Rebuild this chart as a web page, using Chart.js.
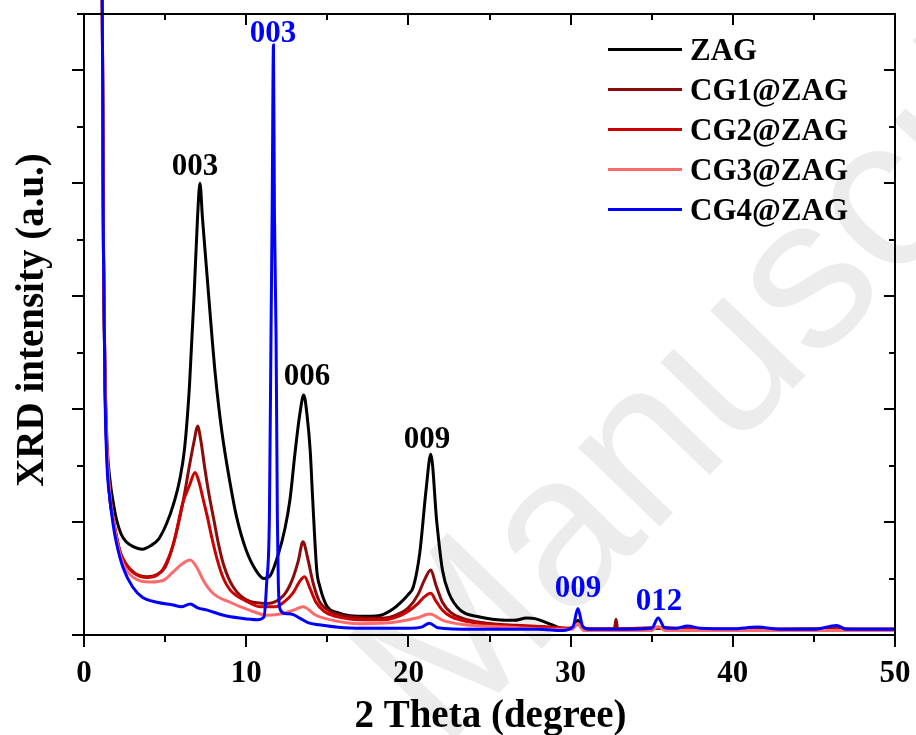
<!DOCTYPE html>
<html>
<head>
<meta charset="utf-8">
<script src="https://cdn.jsdelivr.net/npm/chart.js@4/dist/chart.umd.min.js"></script>
<style>
html,body{margin:0;padding:0;background:#fff;}
#wrap{width:916px;height:735px;position:relative;}
</style>
</head>
<body>
<div id="wrap"><canvas id="c" width="916" height="735"></canvas></div>
<script>
// ---------- data ----------
const seriesNames = ['ZAG', 'CG1@ZAG', 'CG2@ZAG', 'CG3@ZAG', 'CG4@ZAG'];
const seriesColors = ['#000000', '#8B0A0A', '#CC0000', '#FF6B6B', '#0000FF'];

const zagX = [1.10,1.20,1.30,1.42,1.60,1.80,2.00,2.30,2.60,3.00,3.60,4.10,4.60,5.10,5.50,5.90,6.20,6.50,6.80,7.00,7.15,7.30,7.55,7.80,8.10,8.50,9.00,9.40,10.00,10.70,11.10,11.50,12.00,12.40,12.70,13.00,13.30,13.55,13.75,13.95,14.10,14.35,14.55,15.00,15.60,16.40,17.50,18.30,19.00,19.50,20.00,20.30,20.70,21.10,21.38,21.75,22.10,22.50,23.20,24.40,25.50,26.50,27.30,27.80,28.50,29.20,29.80,30.20,30.45,30.70,31.50,33.00,35.40,37.00,40.00,43.00,46.00,48.00,50.00];
const zagY = [13,6.9,4.6,3.4,2.75,2.35,2.05,1.78,1.65,1.57,1.52,1.58,1.70,1.98,2.30,2.75,3.30,4.40,6.10,7.40,8.00,7.40,6.50,5.60,4.60,3.60,2.70,2.10,1.50,1.10,1.00,1.06,1.45,1.90,2.40,3.20,3.90,4.25,3.90,3.25,2.40,1.15,0.85,0.50,0.40,0.34,0.33,0.35,0.45,0.57,0.72,0.85,1.45,2.60,3.20,2.00,1.15,0.74,0.44,0.32,0.27,0.26,0.30,0.29,0.22,0.14,0.10,0.15,0.26,0.12,0.09,0.10,0.12,0.10,0.09,0.10,0.11,0.10,0.10];

const cg1X = [1.10,1.20,1.30,1.42,1.60,1.80,2.00,2.20,2.40,3.00,3.90,4.50,5.00,5.50,6.10,6.50,6.80,7.00,7.20,7.45,7.70,8.00,8.30,8.60,9.20,10.20,11.30,12.30,12.80,13.20,13.50,13.80,14.10,14.50,15.00,15.60,16.50,17.50,18.50,19.30,20.00,20.60,21.00,21.38,21.70,22.10,22.60,23.30,24.50,26.00,28.00,30.00,30.45,30.80,32.70,32.80,32.90,35.40,38.00,42.00,46.00,50.00];
const cg1Y = [13,6.8,4.4,3.2,2.4,2.05,1.75,1.50,1.35,1.12,1.03,1.07,1.20,1.60,2.35,3.00,3.45,3.70,3.45,2.95,2.50,2.05,1.60,1.25,0.85,0.60,0.56,0.70,0.95,1.30,1.65,1.35,0.95,0.60,0.45,0.37,0.32,0.30,0.30,0.36,0.48,0.72,0.98,1.15,0.88,0.58,0.40,0.30,0.22,0.18,0.15,0.12,0.20,0.11,0.11,0.28,0.11,0.13,0.10,0.10,0.10,0.10];

const cg2X = [1.10,1.20,1.30,1.42,1.60,1.80,2.00,2.20,2.40,3.00,3.90,4.50,4.90,5.50,6.10,6.50,6.85,7.10,7.35,7.60,7.90,8.20,8.60,9.00,10.00,10.90,11.80,12.40,12.90,13.30,13.60,13.90,14.30,14.80,15.50,16.50,17.50,18.50,19.30,20.00,20.60,21.00,21.38,21.70,22.10,22.60,23.30,24.50,26.00,28.00,30.00,30.45,30.80,33.00,35.40,38.00,42.00,46.00,50.00];
const cg2Y = [13,6.8,4.4,3.2,2.4,2.05,1.75,1.50,1.35,1.12,1.02,1.06,1.18,1.60,2.35,2.65,2.88,2.70,2.40,2.10,1.70,1.35,1.00,0.80,0.60,0.50,0.50,0.60,0.75,0.95,1.03,0.85,0.58,0.42,0.33,0.28,0.27,0.27,0.32,0.42,0.56,0.68,0.74,0.60,0.44,0.33,0.26,0.20,0.17,0.15,0.12,0.20,0.11,0.10,0.13,0.10,0.10,0.10,0.10];

const cg3X = [1.10,1.20,1.30,1.42,1.60,1.80,2.00,2.40,3.00,4.10,4.90,5.50,6.10,6.55,6.95,7.35,7.95,9.00,10.20,11.30,12.30,13.00,13.50,14.30,15.50,17.00,19.00,20.50,21.30,22.20,23.50,26.00,29.00,30.10,30.45,30.80,35.00,35.40,35.80,40.00,45.00,50.00];
const cg3Y = [13,7.0,4.6,3.3,2.5,2.05,1.70,1.27,1.03,0.94,0.97,1.12,1.27,1.33,1.20,0.97,0.74,0.58,0.44,0.35,0.38,0.45,0.50,0.35,0.25,0.20,0.22,0.30,0.37,0.25,0.18,0.14,0.10,0.10,0.20,0.08,0.08,0.15,0.08,0.08,0.08,0.08];

const cg4X = [1.10,1.20,1.30,1.42,1.60,1.80,2.00,2.40,3.00,3.60,4.50,5.50,6.00,6.55,7.00,7.60,8.60,9.60,10.70,11.10,11.26,11.43,11.53,11.60,11.68,11.74,11.84,11.92,11.98,12.10,12.40,12.90,13.30,13.80,14.50,16.00,18.00,20.00,20.80,21.30,21.80,24.00,26.00,28.00,29.50,30.15,30.45,30.75,31.20,33.00,35.00,35.40,35.80,36.50,37.20,38.00,40.00,41.50,43.00,45.00,46.40,47.00,50.00];
const cg4Y = [13,6.8,4.2,3.0,2.4,1.95,1.63,1.20,0.85,0.67,0.58,0.53,0.50,0.55,0.48,0.44,0.35,0.30,0.27,0.32,0.92,2.10,5.35,7.50,10.45,7.50,5.35,2.10,0.92,0.45,0.38,0.36,0.30,0.22,0.18,0.13,0.12,0.12,0.14,0.21,0.13,0.10,0.10,0.10,0.08,0.15,0.47,0.15,0.10,0.10,0.12,0.30,0.13,0.12,0.16,0.12,0.11,0.14,0.10,0.10,0.17,0.10,0.10];

const xTickValues = [0,5,10,15,20,25,30,35,40,45,50];
const xTickLabels = ['0','','10','','20','','30','','40','','50'];
const yTickValues = [0,1,2,3,4,5,6,7,8,9,10,11];

const peakLabels = ['003','006','009','003','009','012'];
const peakX = [6.84, 13.75, 21.15, 11.65, 30.46, 35.45];
const peakY = [8.15, 4.43, 3.31, 10.50, 0.67, 0.44];
const peakColors = ['#000','#000','#000','#0000FF','#0000FF','#0000FF'];

// ---------- chart ----------
function pts(xs, ys){ return xs.map((x,i)=>({x:x, y:ys[i]})); }
const allX = [zagX, cg1X, cg2X, cg3X, cg4X];
const allY = [zagY, cg1Y, cg2Y, cg3Y, cg4Y];
const drawOrder = [5,4,3,2,1];

const SERIF = '"Liberation Serif", "Times New Roman", serif';

const decor = {
  id: 'decor',
  beforeDraw(chart){
    const ctx = chart.ctx;
    ctx.save();
    ctx.fillStyle = '#fff';
    ctx.fillRect(0,0,chart.width,chart.height);
    // faint watermark
    ctx.translate(442, 752);
    ctx.rotate(-46*Math.PI/180);
    ctx.font = '215px "Liberation Sans", Arial, sans-serif';
    ctx.fillStyle = '#ececec';
    ctx.textBaseline = 'alphabetic';
    ctx.textAlign = 'left';
    ctx.fillText('Manuscript', 0, 0);
    ctx.restore();
  },
  afterDatasetsDraw(chart){
    const ctx = chart.ctx;
    const xs = chart.scales.x, ys = chart.scales.y;
    const a = chart.chartArea;
    ctx.save();
    ctx.strokeStyle = '#000';
    ctx.lineWidth = 2;
    ctx.lineCap = 'butt';
    // frame
    ctx.beginPath();
    ctx.rect(a.left, a.top, a.right - a.left, a.bottom - a.top);
    ctx.stroke();
    // x ticks (bottom outward, top inward)
    xTickValues.forEach(v=>{
      const px = Math.round(xs.getPixelForValue(v));
      const major = v % 10 === 0;
      const L = major ? 12 : 7;
      ctx.beginPath();
      ctx.moveTo(px, a.bottom); ctx.lineTo(px, a.bottom + L);
      ctx.moveTo(px, a.top); ctx.lineTo(px, a.top + (major ? 11 : 6));
      ctx.stroke();
    });
    // y ticks (left outward, right inward)
    yTickValues.forEach(v=>{
      const py = Math.round(ys.getPixelForValue(v));
      const major = v % 2 === 0;
      ctx.beginPath();
      ctx.moveTo(a.left, py); ctx.lineTo(a.left - (major ? 12 : 7), py);
      ctx.moveTo(a.right, py); ctx.lineTo(a.right - (major ? 11 : 6), py);
      ctx.stroke();
    });
    // x tick labels
    ctx.fillStyle = '#000';
    ctx.font = 'bold 31px ' + SERIF;
    ctx.textAlign = 'center';
    ctx.textBaseline = 'alphabetic';
    xTickValues.forEach((v,i)=>{
      if (xTickLabels[i]) ctx.fillText(xTickLabels[i], xs.getPixelForValue(v), 682);
    });
    // axis titles
    ctx.font = 'bold 39px ' + SERIF;
    ctx.fillText('2 Theta (degree)', (a.left + a.right)/2 + 1, 727);
    ctx.save();
    ctx.translate(43, 320);
    ctx.rotate(-Math.PI/2);
    ctx.fillText('XRD intensity (a.u.)', 0, 0);
    ctx.restore();
    // peak labels
    ctx.font = 'bold 31px ' + SERIF;
    peakLabels.forEach((t,i)=>{
      ctx.fillStyle = peakColors[i];
      ctx.fillText(t, xs.getPixelForValue(peakX[i]), ys.getPixelForValue(peakY[i]));
    });
    // legend
    ctx.textAlign = 'left';
    ctx.font = 'bold 31px ' + SERIF;
    seriesNames.forEach((n,i)=>{
      const base = 60 + i*40;
      ctx.strokeStyle = seriesColors[i];
      ctx.lineWidth = 3;
      ctx.beginPath();
      ctx.moveTo(608, base - 10.5); ctx.lineTo(682, base - 10.5);
      ctx.stroke();
      ctx.fillStyle = '#000';
      ctx.fillText(n, 690, base);
    });
    ctx.restore();
  }
};

new Chart(document.getElementById('c'), {
  type: 'line',
  data: {
    datasets: seriesNames.map((n,i)=>({
      label: n,
      data: pts(allX[i], allY[i]),
      borderColor: seriesColors[i],
      backgroundColor: seriesColors[i],
      borderWidth: 3,
      pointRadius: 0,
      cubicInterpolationMode: 'monotone',
      fill: false,
      clip: false,
      order: drawOrder[i]
    }))
  },
  options: {
    responsive: false,
    animation: false,
    devicePixelRatio: 1,
    layout: { padding: { left: 84, right: 21, top: 14, bottom: 100 } },
    plugins: { legend: { display: false }, tooltip: { enabled: false } },
    scales: {
      x: { type: 'linear', min: 0, max: 50, display: false },
      y: { type: 'linear', min: 0, max: 11, display: false }
    }
  },
  plugins: [decor]
});
</script>
</body>
</html>
